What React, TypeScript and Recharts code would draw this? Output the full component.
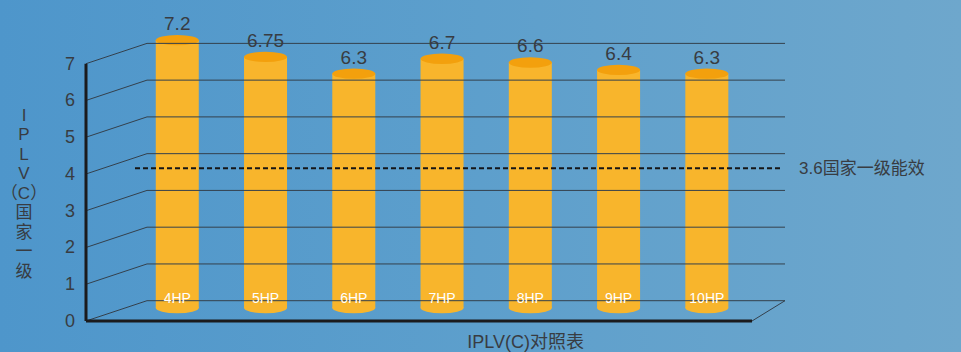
import React from 'react';
import { ComposedChart, Bar, Line, XAxis, YAxis, ReferenceLine, LabelList } from 'recharts';

// ---------- data ----------
const categories = ['4HP', '5HP', '6HP', '7HP', '8HP', '9HP', '10HP'];
const iplvValues = [7.2, 6.75, 6.3, 6.7, 6.6, 6.4, 6.3];
const yTicks = [0, 1, 2, 3, 4, 5, 6, 7];
const standardValue = 3.6;
const standardLabel = '3.6国家一级能效';
const yTitleLines = ['I', 'P', 'L', 'V', '（C）', '国', '家', '一', '级'];
const xTitle = 'IPLV(C)对照表';

const data = categories.map((name, i) => ({ name, slot: i, value: iplvValues[i] }));

// ---------- layout ----------
const W = 961;
const H = 352;
const PLOT_TOP = 5;
const PLOT_BOTTOM = 335;
const PLOT_LEFT = 86;
const PLOT_RIGHT = 785;
const FRAME_ZERO_PX = 321;
const FRAME_UNIT_PX = 36.76;
const BAR_ZERO_PX = 308;
const BAR_UNIT_PX = 37.2;
const SLOT_PX = 88.26;
const FIRST_SLOT_PX = 176.9;

const pxToFrame = (px: number) => (FRAME_ZERO_PX - px) / FRAME_UNIT_PX;
const frameDomain = [pxToFrame(PLOT_BOTTOM), pxToFrame(PLOT_TOP)];
const barDomain = [(BAR_ZERO_PX - PLOT_BOTTOM) / BAR_UNIT_PX, (BAR_ZERO_PX - PLOT_TOP) / BAR_UNIT_PX];
const pxToSlot = (px: number) => (px - FIRST_SLOT_PX) / SLOT_PX;
const slotDomain = [pxToSlot(PLOT_LEFT), pxToSlot(PLOT_RIGHT)];
const DEPTH_Y = 20.3 / FRAME_UNIT_PX;
const FRONT_X = pxToSlot(86);
const BACK_X = pxToSlot(147);
const FRONT_END_X = pxToSlot(752);
const BACK_END_X = pxToSlot(785);
const DASH_START = pxToSlot(135);
const DASH_END = pxToSlot(783);
const PAD_LEFT = FIRST_SLOT_PX - SLOT_PX / 2 - PLOT_LEFT;
const PAD_RIGHT = PLOT_RIGHT - (FIRST_SLOT_PX + (categories.length - 0.5) * SLOT_PX);
const TICK_X = 70;

// the standard (3.6) line, drawn on the back wall of the frame
const standardLine = [
  { slot: DASH_START, std: standardValue + DEPTH_Y },
  { slot: DASH_END, std: standardValue + DEPTH_Y },
];

const BODY = '#F8B52C';
const TOP = '#F3A00D';
const TEXT = '#383c42';
const GRID = '#34404c';
const FONT = '"Liberation Sans", Arial, "Noto Sans CJK SC", sans-serif';

const Cylinder = (props: any) => {
  const { x, y, width, height } = props;
  const cx = x + width / 2;
  const rx = width / 2;
  const ry = 5.2;
  return (
    <g>
      <ellipse cx={cx} cy={y + height} rx={rx} ry={ry} fill={BODY} />
      <rect x={x} y={y} width={width} height={height} fill={BODY} />
      <ellipse cx={cx} cy={y} rx={rx} ry={ry} fill={TOP} />
    </g>
  );
};

const FrontTick = (p: any) => (
  <text
    x={TICK_X}
    y={p.y}
    fill={TEXT}
    fontSize={18}
    textAnchor="middle"
    dominantBaseline="central"
    fontFamily={FONT}
  >
    {p.payload.value}
  </text>
);

const YTitle = () => (
  <text fill={TEXT} fontSize={17} textAnchor="middle" fontFamily={FONT}>
    {yTitleLines.map((c, i) => (
      <tspan key={i} x={24} y={115 + i * 19.5} dominantBaseline="central">
        {c}
      </tspan>
    ))}
  </text>
);

const XTitle = (p: any) => {
  const vb = p.viewBox || { x: 86, y: 335, width: 699, height: 17 };
  return (
    <text
      x={vb.x + vb.width * 0.629}
      y={vb.y + 7}
      fill={TEXT}
      fontSize={18}
      textAnchor="middle"
      dominantBaseline="central"
      fontFamily={FONT}
    >
      {xTitle}
    </text>
  );
};

const StandardLabel = (p: any) => {
  if (p.index !== standardLine.length - 1) return null;
  return (
    <text
      x={p.x + 16}
      y={p.y}
      fill={TEXT}
      fontSize={17}
      textAnchor="start"
      dominantBaseline="central"
      fontFamily={FONT}
    >
      {standardLabel}
    </text>
  );
};

export default function App() {
  return (
    <div
      style={{
        position: 'absolute',
        left: 0,
        top: 0,
        width: W,
        height: H,
        background: 'linear-gradient(90deg, #4e96cb 0%, #5d9fcc 50%, #6ea7cc 100%)',
        fontFamily: FONT,
      }}
    >
      <ComposedChart
        width={W}
        height={H}
        data={data}
        margin={{ top: PLOT_TOP, right: W - PLOT_RIGHT, bottom: 0, left: 0 }}
      >
        <XAxis
          xAxisId="cat"
          dataKey="name"
          type="category"
          height={H - PLOT_BOTTOM}
          padding={{ left: PAD_LEFT, right: PAD_RIGHT }}
          axisLine={false}
          tickLine={false}
          tick={false}
          label={<XTitle />}
        />
        <XAxis
          xAxisId="num"
          dataKey="slot"
          type="number"
          domain={slotDomain}
          allowDataOverflow
          hide
          height={0}
        />
        <YAxis
          yAxisId="frame"
          type="number"
          width={PLOT_LEFT}
          domain={frameDomain}
          allowDataOverflow
          ticks={yTicks}
          interval={0}
          axisLine={false}
          tickLine={false}
          tick={<FrontTick />}
          label={<YTitle />}
        />
        <YAxis yAxisId="bar" type="number" domain={barDomain} allowDataOverflow hide width={0} />

        {yTicks.map((v) => (
          <ReferenceLine
            key={'g' + v}
            xAxisId="num"
            yAxisId="frame"
            ifOverflow="visible"
            segment={[
              { x: BACK_X, y: v + DEPTH_Y },
              { x: BACK_END_X, y: v + DEPTH_Y },
            ]}
            stroke={GRID}
            strokeWidth={1}
          />
        ))}
        {yTicks.map((v) => (
          <ReferenceLine
            key={'d' + v}
            xAxisId="num"
            yAxisId="frame"
            ifOverflow="visible"
            segment={[
              { x: FRONT_X, y: v },
              { x: BACK_X, y: v + DEPTH_Y },
            ]}
            stroke={GRID}
            strokeWidth={1}
          />
        ))}
        <ReferenceLine
          xAxisId="num"
          yAxisId="frame"
          ifOverflow="visible"
          segment={[
            { x: FRONT_END_X, y: 0 },
            { x: BACK_END_X, y: DEPTH_Y },
          ]}
          stroke={GRID}
          strokeWidth={1}
        />
        <ReferenceLine
          xAxisId="num"
          yAxisId="frame"
          ifOverflow="visible"
          segment={[
            { x: FRONT_X, y: 0 },
            { x: FRONT_END_X, y: 0 },
          ]}
          stroke="#1b1b1d"
          strokeWidth={3}
        />
        <ReferenceLine
          xAxisId="num"
          yAxisId="frame"
          ifOverflow="visible"
          segment={[
            { x: FRONT_X, y: 0 },
            { x: FRONT_X, y: yTicks[yTicks.length - 1] },
          ]}
          stroke="#1b1b1d"
          strokeWidth={3}
        />

        <Bar
          xAxisId="cat"
          yAxisId="bar"
          dataKey="value"
          barSize={43}
          shape={<Cylinder />}
          isAnimationActive={false}
        >
          <LabelList dataKey="value" position="top" offset={10} fill={TEXT} fontSize={19} fontFamily={FONT} />
          <LabelList dataKey="name" position="insideBottom" offset={5} fill="#ffffff" fontSize={14} fontFamily={FONT} />
        </Bar>

        <Line
          data={standardLine}
          xAxisId="num"
          yAxisId="frame"
          dataKey="std"
          stroke="#161616"
          strokeWidth={2}
          strokeDasharray="5 3"
          dot={false}
          activeDot={false}
          isAnimationActive={false}
        >
          <LabelList dataKey="std" content={<StandardLabel />} />
        </Line>
      </ComposedChart>
    </div>
  );
}
